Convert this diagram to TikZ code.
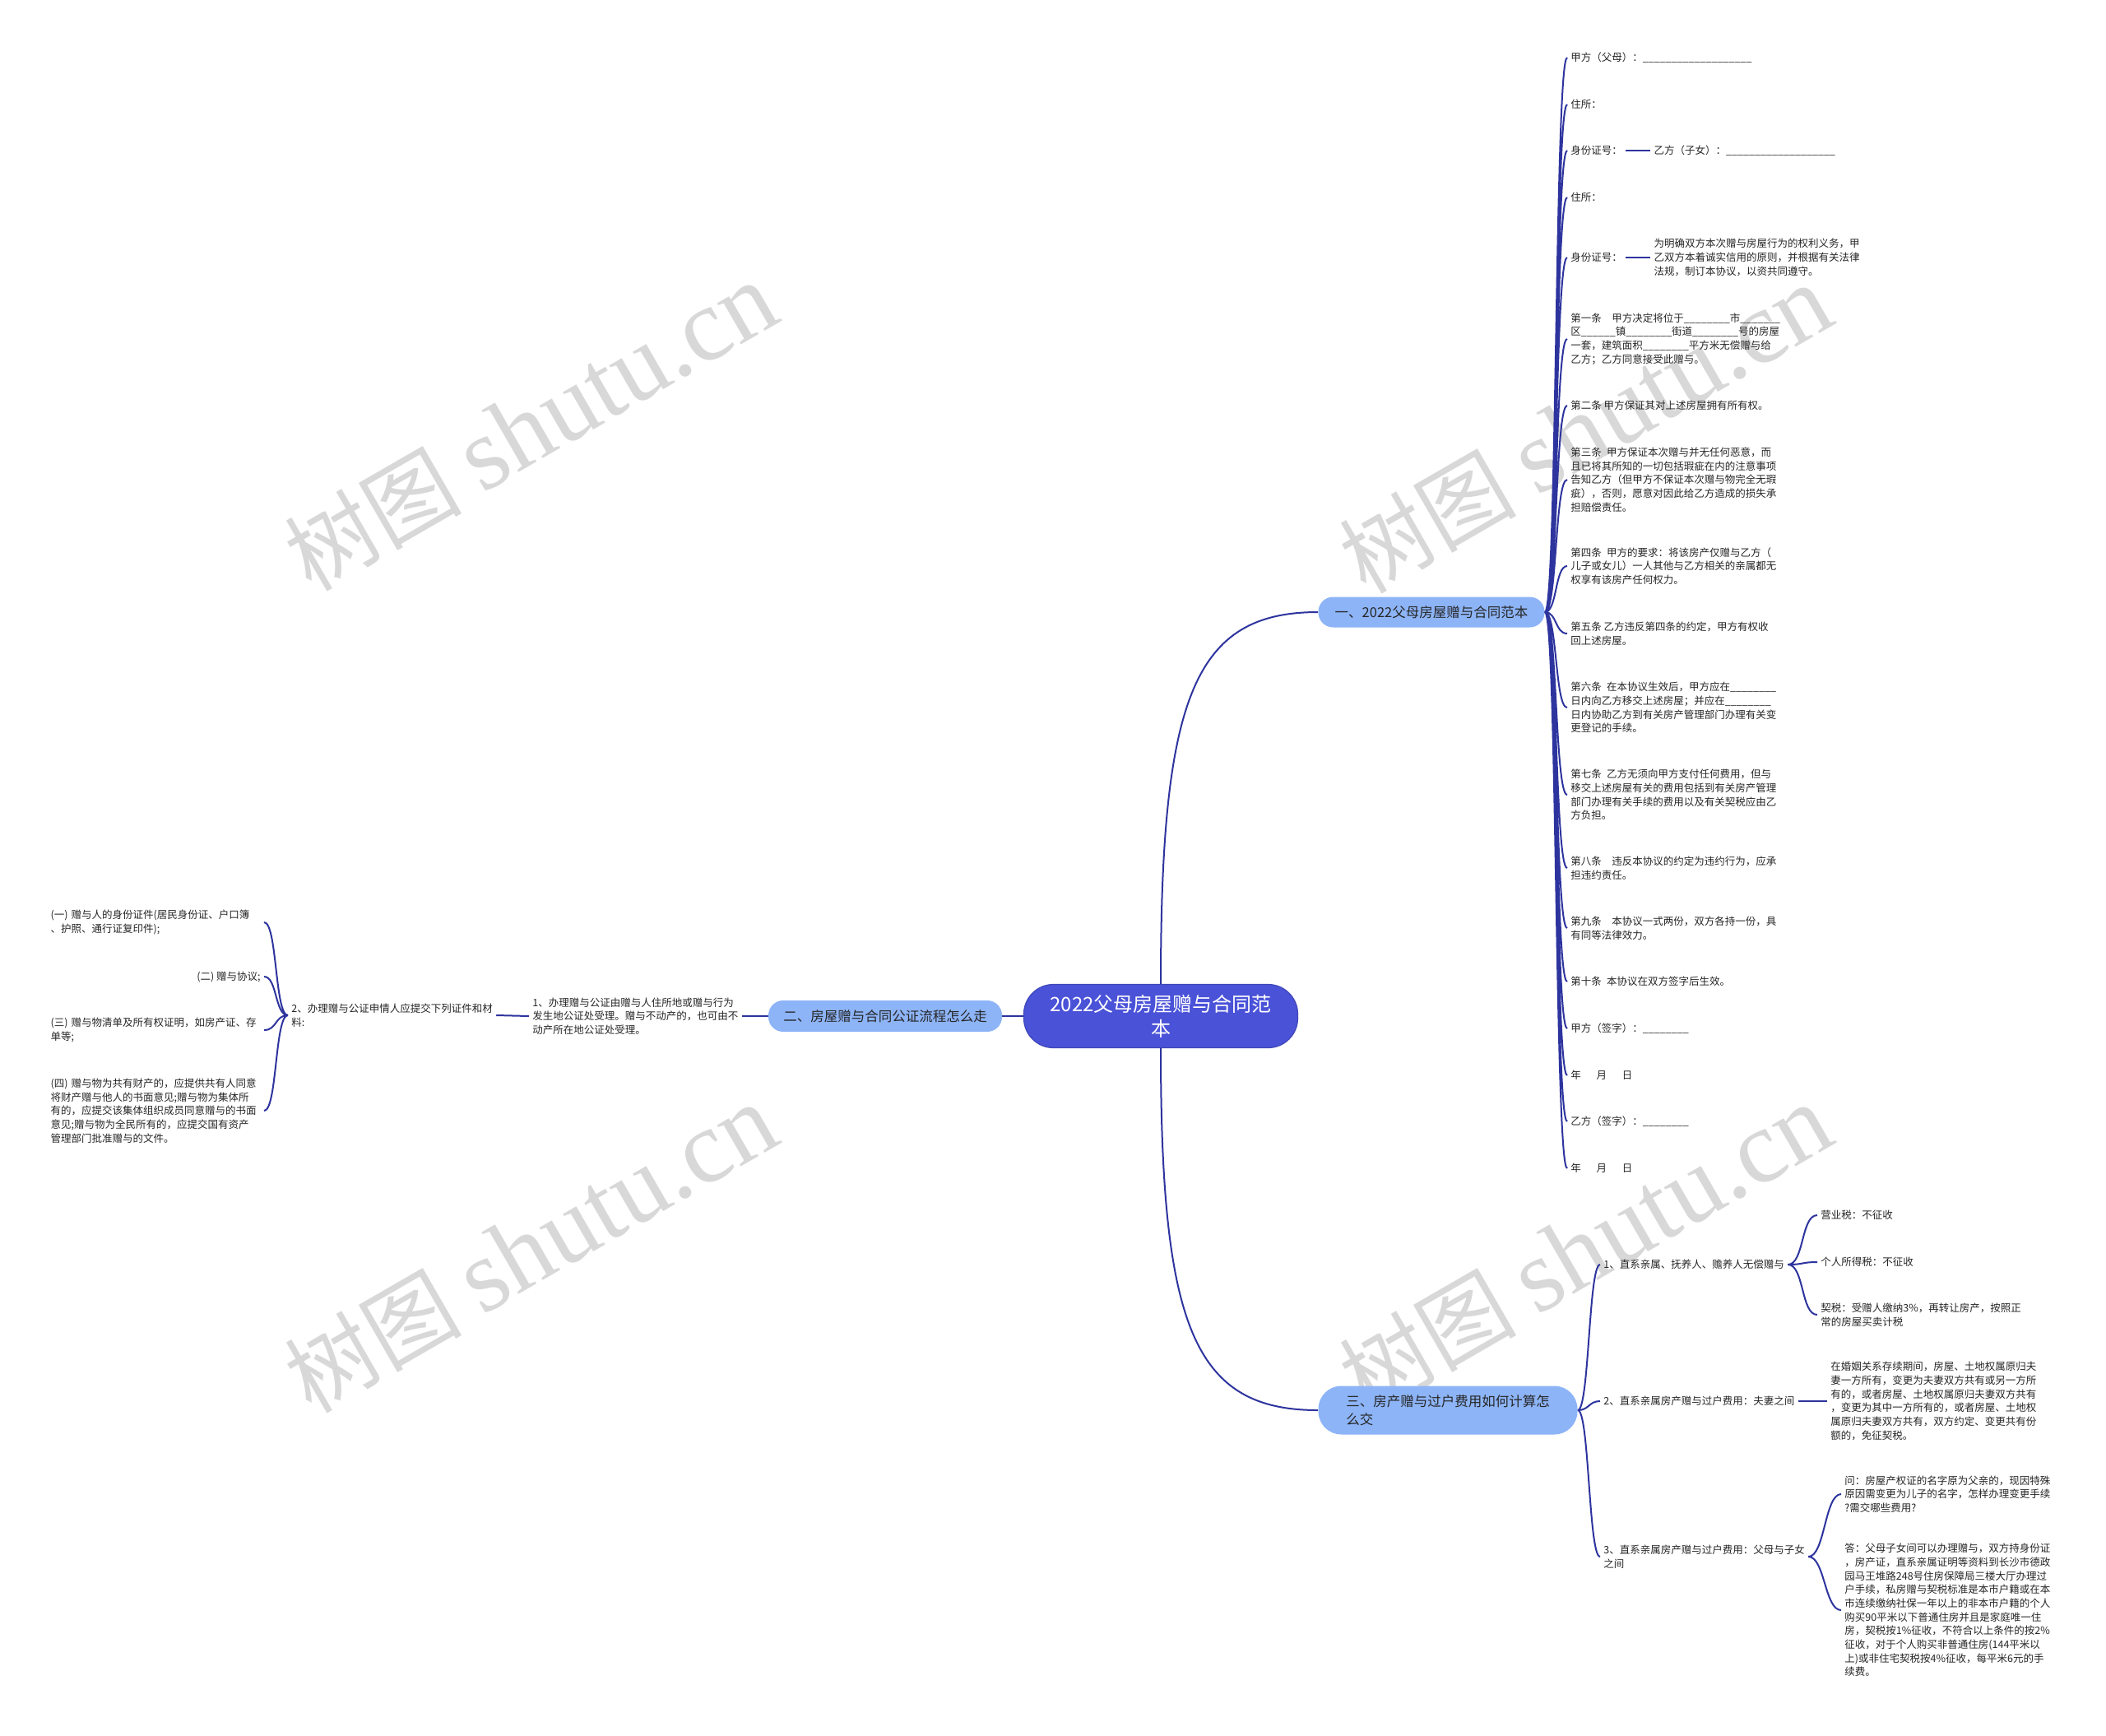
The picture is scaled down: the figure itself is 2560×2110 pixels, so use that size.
\documentclass[tikz,border=0pt]{standalone}
\usepackage{fontspec}
\setmainfont{Noto Sans CJK SC}
\newfontfamily\wmfont{Liberation Serif}
\usetikzlibrary{positioning}
\definecolor{rootblue}{RGB}{74,82,216}
\definecolor{topicblue}{RGB}{141,180,247}
\definecolor{linkblue}{RGB}{46,52,158}
\definecolor{wmgray}{RGB}{216,216,216}

\begin{document}
\begin{tikzpicture}[x=0.5pt, y=-0.5pt,
      root/.style  = {draw=rootblue!85!black, fill=rootblue, text=white,
                      rounded corners=18pt, minimum width=166.5pt, minimum height=38.5pt,
                      align=center, font=\fontsize{12}{15}\selectfont, line width=0.6pt},
      topic/.style = {fill=topicblue, text=black!85, inner sep=0pt,
                      font=\fontsize{8.25}{10.85}\selectfont},
      leaf/.style  = {text=black!85, align=left, inner xsep=2pt, inner ysep=1pt,
                      font=\fontsize{6.25}{8.35}\selectfont},
      link/.style  = {draw=linkblue, line width=1pt},
      elbow/.style = {to path={.. controls +(#1,0) and +({-(#1)},0) .. (\tikztotarget)}},
      wmark/.style = {text=wmgray, rotate=30, font=\fontsize{54}{58}\selectfont}
    ]

    \path[use as bounding box, fill=white] (0,0) rectangle (2560,2110);

    % watermarks
    \node[wmark] (wm1) at (645,519)   {树图 {\wmfont\fontsize{63}{63}\selectfont shutu.cn}};
    \node[wmark] (wm2) at (1927,522)  {树图 {\wmfont\fontsize{63}{63}\selectfont shutu.cn}};
    \node[wmark] (wm3) at (645,1518)  {树图 {\wmfont\fontsize{63}{63}\selectfont shutu.cn}};
    \node[wmark] (wm4) at (1927,1518) {树图 {\wmfont\fontsize{63}{63}\selectfont shutu.cn}};

    \node[root] (root) at (1411,1235) {2022父母房屋赠与合同范\\本};
    \node[topic, minimum width=137.5pt, minimum height=18.5pt, rounded corners=9pt]
          (t1) at (1740,744)  {一、2022父母房屋赠与合同范本};
    \node[topic, minimum width=142pt, minimum height=19pt, rounded corners=9pt]
          (t2) at (1076,1235) {二、房屋赠与合同公证流程怎么走};
    \node[topic, minimum width=157.5pt, minimum height=29.5pt, rounded corners=14pt, align=left]
          (t3) at (1760,1714) {三、房产赠与过户费用如何计算怎\\么交};

    % branch one: the contract
    \node[leaf, anchor=west] (a1)  at (1905,70)   {甲方（父母）：\_\_\_\_\_\_\_\_\_\_\_\_\_\_\_\_\_\_\_};
    \node[leaf, anchor=west] (a2)  at (1905,127)  {住所：};
    \node[leaf, anchor=west] (a3)  at (1905,183)  {身份证号：};
    \node[leaf, anchor=west] (a4)  at (1905,240)  {住所：};
    \node[leaf, anchor=west] (a5)  at (1905,313)  {身份证号：};
    \node[leaf, anchor=west] (a6)  at (1905,412)  {第一条\quad 甲方决定将位于\_\_\_\_\_\_\_\_市\_\_\_\_\_\_\_\\区\_\_\_\_\_\_镇\_\_\_\_\_\_\_\_街道\_\_\_\_\_\_\_\_号的房屋\\一套，建筑面积\_\_\_\_\_\_\_\_平方米无偿赠与给\\乙方；乙方同意接受此赠与。};
    \node[leaf, anchor=west] (a7)  at (1905,493)  {第二条 甲方保证其对上述房屋拥有所有权。};
    \node[leaf, anchor=west] (a8)  at (1905,583)  {第三条\enspace 甲方保证本次赠与并无任何恶意，而\\且已将其所知的一切包括瑕疵在内的注意事项\\告知乙方（但甲方不保证本次赠与物完全无瑕\\疵），否则，愿意对因此给乙方造成的损失承\\担赔偿责任。};
    \node[leaf, anchor=west] (a9)  at (1905,688)  {第四条\enspace 甲方的要求：将该房产仅赠与乙方（\\儿子或女儿）一人其他与乙方相关的亲属都无\\权享有该房产任何权力。};
    \node[leaf, anchor=west] (a10) at (1905,770)  {第五条 乙方违反第四条的约定，甲方有权收\\回上述房屋。};
    \node[leaf, anchor=west] (a11) at (1905,860)  {第六条\enspace 在本协议生效后，甲方应在\_\_\_\_\_\_\_\_\\日内向乙方移交上述房屋；并应在\_\_\_\_\_\_\_\_\\日内协助乙方到有关房产管理部门办理有关变\\更登记的手续。};
    \node[leaf, anchor=west] (a12) at (1905,966)  {第七条\enspace 乙方无须向甲方支付任何费用，但与\\移交上述房屋有关的费用包括到有关房产管理\\部门办理有关手续的费用以及有关契税应由乙\\方负担。};
    \node[leaf, anchor=west] (a13) at (1905,1055) {第八条\quad 违反本协议的约定为违约行为，应承\\担违约责任。};
    \node[leaf, anchor=west] (a14) at (1905,1128) {第九条\quad 本协议一式两份，双方各持一份，具\\有同等法律效力。};
    \node[leaf, anchor=west] (a15) at (1905,1193) {第十条\enspace 本协议在双方签字后生效。};
    \node[leaf, anchor=west] (a16) at (1905,1250) {甲方（签字）：\_\_\_\_\_\_\_\_};
    \node[leaf, anchor=west] (a17) at (1905,1307) {年\hspace{1.5em}月\hspace{1.5em}日};
    \node[leaf, anchor=west] (a18) at (1905,1363) {乙方（签字）：\_\_\_\_\_\_\_\_};
    \node[leaf, anchor=west] (a19) at (1905,1420) {年\hspace{1.5em}月\hspace{1.5em}日};
    \node[leaf, right=15pt of a3] (a3r) {乙方（子女）：\_\_\_\_\_\_\_\_\_\_\_\_\_\_\_\_\_\_\_};
    \node[leaf, right=15pt of a5] (a5r) {为明确双方本次赠与房屋行为的权利义务，甲\\乙双方本着诚实信用的原则，并根据有关法律\\法规，制订本协议，以资共同遵守。};

    % branch two: notarisation
    \node[leaf, anchor=west] (b1)  at (643,1235)  {1、办理赠与公证由赠与人住所地或赠与行为\\发生地公证处受理。赠与不动产的，也可由不\\动产所在地公证处受理。};
    \node[leaf, anchor=west] (b2)  at (350,1234)  {2、办理赠与公证申情人应提交下列证件和材\\料:};
    \node[leaf, anchor=east, text width=127.5pt] (b21) at (321,1121) {(一) 赠与人的身份证件(居民身份证、户口簿\\、护照、通行证复印件);};
    \node[leaf, anchor=east] (b22) at (321,1187) {(二) 赠与协议;};
    \node[leaf, anchor=east, text width=127.5pt] (b23) at (321,1252) {(三) 赠与物清单及所有权证明，如房产证、存\\单等;};
    \node[leaf, anchor=east, text width=127.5pt] (b24) at (321,1350) {(四) 赠与物为共有财产的，应提供共有人同意\\将财产赠与他人的书面意见;赠与物为集体所\\有的，应提交该集体组织成员同意赠与的书面\\意见;赠与物为全民所有的，应提交国有资产\\管理部门批准赠与的文件。};

    % branch three: fees
    \node[leaf, anchor=west] (c1)  at (1945,1537) {1、直系亲属、抚养人、赡养人无偿赠与};
    \node[leaf, anchor=west] (c2)  at (1945,1703) {2、直系亲属房产赠与过户费用：夫妻之间};
    \node[leaf, anchor=west] (c3)  at (1945,1892) {3、直系亲属房产赠与过户费用：父母与子女\\之间};
    \node[leaf, anchor=west] (c11) at (2209,1477) {营业税：不征收};
    \node[leaf, anchor=west] (c12) at (2209,1534) {个人所得税：不征收};
    \node[leaf, anchor=west] (c13) at (2209,1598) {契税：受赠人缴纳3\%，再转让房产，按照正\\常的房屋买卖计税};
    \node[leaf, anchor=west] (c21) at (2221,1703) {在婚姻关系存续期间，房屋、土地权属原归夫\\妻一方所有，变更为夫妻双方共有或另一方所\\有的，或者房屋、土地权属原归夫妻双方共有\\，变更为其中一方所有的，或者房屋、土地权\\属原归夫妻双方共有，双方约定、变更共有份\\额的，免征契税。};
    \node[leaf, anchor=west] (c31) at (2238,1816) {问：房屋产权证的名字原为父亲的，现因特殊\\原因需变更为儿子的名字，怎样办理变更手续\\?需交哪些费用?};
    \node[leaf, anchor=west] (c32) at (2238,1957) {答：父母子女间可以办理赠与，双方持身份证\\，房产证，直系亲属证明等资料到长沙市德政\\园马王堆路248号住房保障局三楼大厅办理过\\户手续，私房赠与契税标准是本市户籍或在本\\市连续缴纳社保一年以上的非本市户籍的个人\\购买90平米以下普通住房并且是家庭唯一住\\房，契税按1\%征收，不符合以上条件的按2\%\\征收，对于个人购买非普通住房(144平米以\\上)或非住宅契税按4\%征收，每平米6元的手\\续费。};

    % connectors
    \draw[link] (root.north) .. controls +(0,-350) and +(-150,0) .. (t1.west);
    \draw[link] (root.south) .. controls +(0,340) and +(-150,0) .. (t3.west);
    \draw[link] (root.west) -- (t2.east);

    \draw[link] (t1.east) to[elbow=15] (a1.west)  (t1.east) to[elbow=15] (a2.west)
                (t1.east) to[elbow=15] (a3.west)  (t1.east) to[elbow=15] (a4.west)
                (t1.east) to[elbow=15] (a5.west)  (t1.east) to[elbow=15] (a6.west)
                (t1.east) to[elbow=15] (a7.west)  (t1.east) to[elbow=15] (a8.west)
                (t1.east) to[elbow=15] (a9.west)  (t1.east) to[elbow=15] (a10.west)
                (t1.east) to[elbow=15] (a11.west) (t1.east) to[elbow=15] (a12.west)
                (t1.east) to[elbow=15] (a13.west) (t1.east) to[elbow=15] (a14.west)
                (t1.east) to[elbow=15] (a15.west) (t1.east) to[elbow=15] (a16.west)
                (t1.east) to[elbow=15] (a17.west) (t1.east) to[elbow=15] (a18.west)
                (t1.east) to[elbow=15] (a19.west);
    \draw[link] (a3.east) -- (a3r.west);
    \draw[link] (a5.east) -- (a5r.west);

    \draw[link] (t2.west) -- (b1.east);
    \draw[link] (b1.west) -- (b2.east);
    \draw[link] (b2.west) to[elbow=-16] (b21.east) (b2.west) to[elbow=-16] (b22.east)
                (b2.west) to[elbow=-16] (b23.east) (b2.west) to[elbow=-16] (b24.east);

    \draw[link] (t3.east) to[elbow=14] (c1.west) (t3.east) to[elbow=14] (c2.west)
                (t3.east) to[elbow=14] (c3.west);
    \draw[link] (c1.east) to[elbow=20] (c11.west) (c1.east) to[elbow=20] (c12.west)
                (c1.east) to[elbow=20] (c13.west);
    \draw[link] (c2.east) -- (c21.west);
    \draw[link] (c3.east) to[elbow=20] (c31.west) (c3.east) to[elbow=20] (c32.west);
  \end{tikzpicture}
\end{document}
